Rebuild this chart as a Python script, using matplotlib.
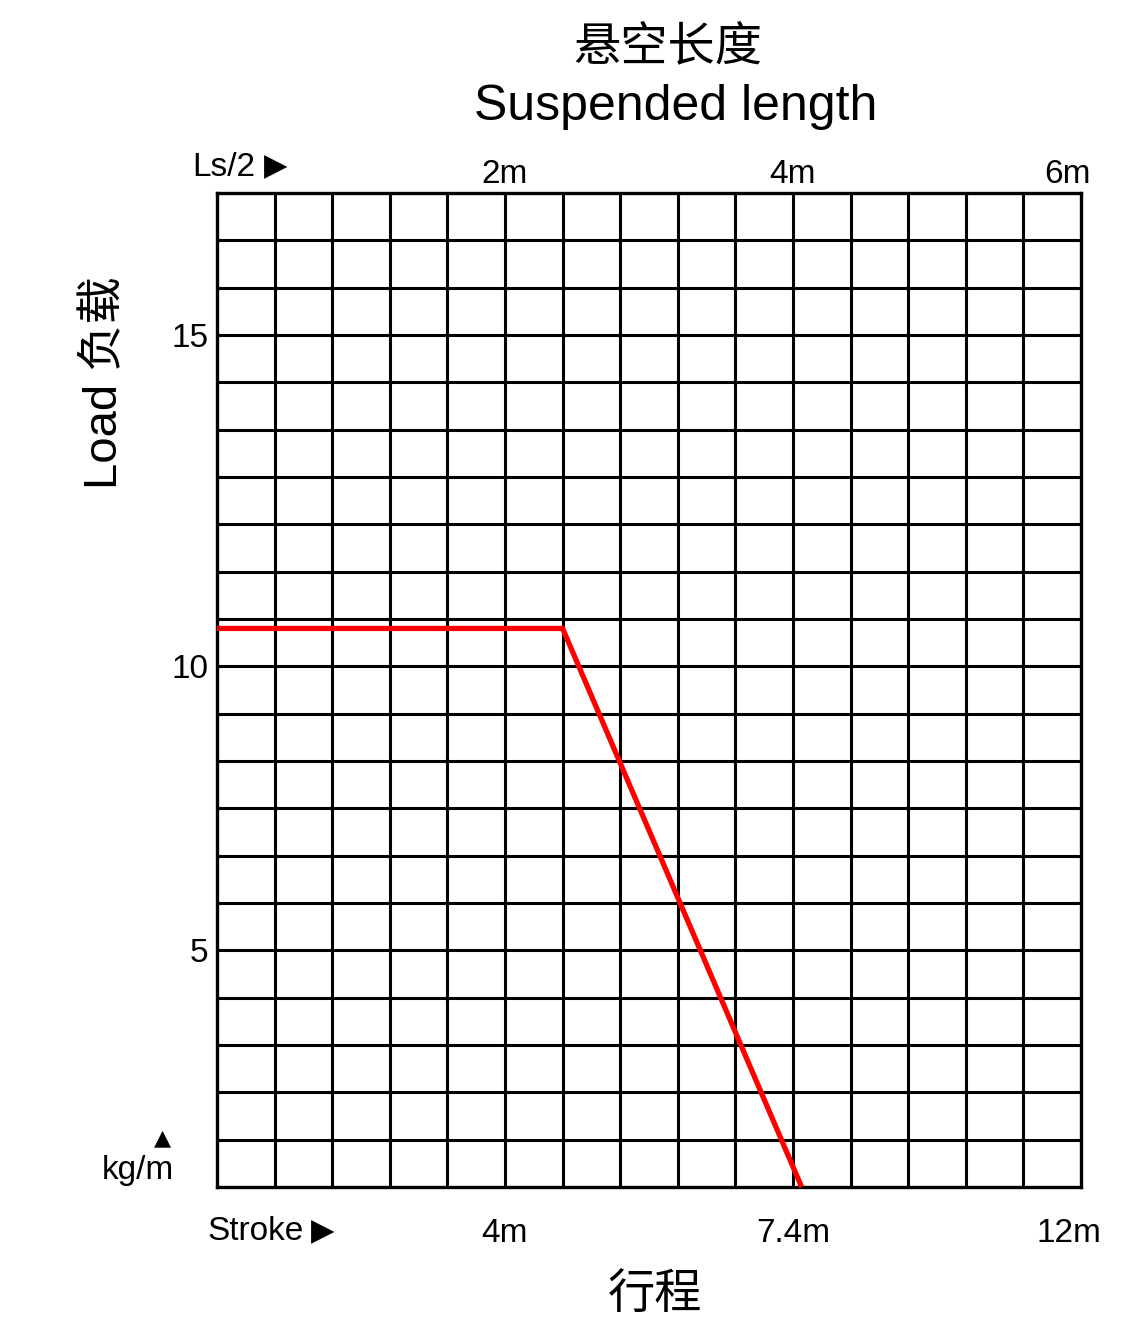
import numpy as np
import matplotlib
matplotlib.use("Agg")
from matplotlib import pyplot as plt
from matplotlib.transforms import ScaledTranslation

# grid size (cells across / cells up)
n_cols = 15
n_rows = 21

# axis labels, positioned in grid cells
stroke_pos = [5, 10, 15]
stroke_labels = ['4m', '7.4m', '12m']
ls_pos = [5, 10, 15]
ls_labels = ['2m', '4m', '6m']
load_pos = [5, 11, 18]
load_labels = ['5', '10', '15']

# load curve, in grid cells
curve_x = [0, 6, 10.15]
curve_y = [11.8, 11.8, 0]

W, H = 1141, 1328
latin = ['Liberation Sans', 'DejaVu Sans']
cjk = ['Noto Sans CJK SC', 'DejaVu Sans']
mixed = ['Liberation Sans', 'Noto Sans CJK SC', 'DejaVu Sans']

fig = plt.figure(figsize=(W / 100, H / 100), dpi=100)
ax = fig.add_axes([217 / W, 1 - 1187 / H, (1081 - 217) / W, (1187 - 193) / H])
ax.set_xlim(0, n_cols)
ax.set_ylim(0, n_rows)

# black cell grid
ax.vlines(np.arange(1, n_cols), 0, n_rows, color='black', lw=2.2, zorder=1)
ax.hlines(np.arange(1, n_rows), 0, n_cols, color='black', lw=2.2, zorder=1)
for s in ax.spines.values():
    s.set_linewidth(2.4)

ax.plot(curve_x, curve_y, color='#ff0000', lw=3.8, solid_capstyle='butt',
        solid_joinstyle='miter', zorder=3, clip_on=False)

ax.set_xticks(stroke_pos)
ax.set_xticklabels(stroke_labels, family=latin, fontsize=24)
ax.set_yticks(load_pos)
ax.set_yticklabels(load_labels, family=latin, fontsize=24)
ax.tick_params(axis='x', length=0, pad=22)
ax.tick_params(axis='y', length=0, pad=6)

top = ax.secondary_xaxis('top')
top.set_xticks(ls_pos)
top.set_xticklabels(ls_labels, family=latin, fontsize=24)
top.tick_params(length=0, pad=2)
top.spines['top'].set_visible(False)

# pull the right-hand labels back inside the frame a little
fig.canvas.draw()
lbl = ax.get_xticklabels()[-1]
lbl.set_transform(lbl.get_transform() + ScaledTranslation(-0.12, 0, fig.dpi_scale_trans))
lbl = top.get_xticklabels()[-1]
lbl.set_transform(lbl.get_transform() + ScaledTranslation(-0.14, 0, fig.dpi_scale_trans))

def put(x, y, s, **kw):
    fig.text(x / W, 1 - y / H, s, **kw)

put(668, 47, '悬空长度', family=cjk, fontsize=34, ha='center', va='center')
put(676, 107, 'Suspended length', family=latin, fontsize=36, ha='center', va='center')
put(192, 167, 'Ls/2', family=latin, fontsize=24, ha='left', va='center')
put(276, 167, '▶', family=['DejaVu Sans'], fontsize=22, ha='center', va='center')
put(207, 1232, 'Stroke', family=latin, fontsize=24, ha='left', va='center')
put(323, 1232, '▶', family=['DejaVu Sans'], fontsize=22, ha='center', va='center')
put(138, 1170, 'kg/m', family=latin, fontsize=24, ha='center', va='center')
put(162, 1138, '▲', family=['DejaVu Sans'], fontsize=16, ha='center', va='center')
put(655, 1295, '行程', family=cjk, fontsize=34, ha='center', va='center')
put(105, 383, 'Load 负载', family=mixed, fontsize=34, ha='center', va='center',
    rotation=90)

fig.savefig('out.png', dpi=100, facecolor='white')
